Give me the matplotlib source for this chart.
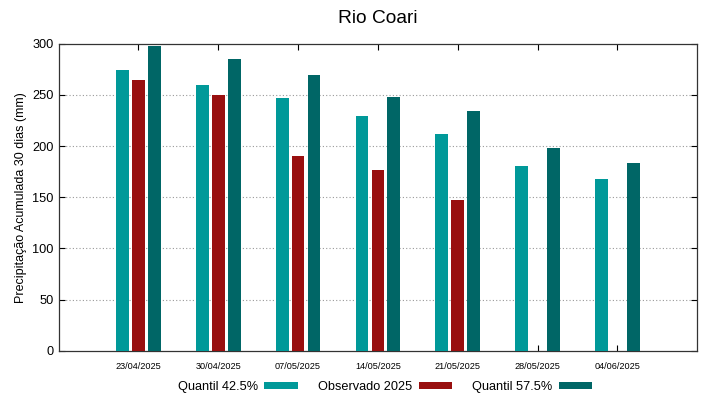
import numpy as np
import matplotlib
matplotlib.use('Agg')
import matplotlib.pyplot as plt

plt.rcParams['font.family'] = ['Liberation Sans', 'DejaVu Sans']

# data
datas      = ['23/04/2025', '30/04/2025', '07/05/2025', '14/05/2025',
              '21/05/2025', '28/05/2025', '04/06/2025']
q425       = [274.0, 260.0, 247.0, 229.5, 212.0, 180.5, 168.0]
observado  = [264.5, 250.0, 190.0, 177.0, 147.5, np.nan, np.nan]
q575       = [297.5, 285.5, 269.5, 248.0, 234.0, 198.0, 183.0]

cor_q425 = '#009999'
cor_obs  = '#990f0f'
cor_q575 = '#006666'


fig = plt.figure( figsize=(7.19, 3.99), dpi=100 )
ax  = fig.add_axes( [0.0816, 0.121, 0.888, 0.7695] )

x = np.arange( len(datas) )
w = 0.16
off = 0.2

b1 = ax.bar( x - off , q425      , w , color=cor_q425 , zorder=3 , label='Quantil 42.5%' )
b2 = ax.bar( x       , observado , w , color=cor_obs  , zorder=3 , label='Observado 2025' )
b3 = ax.bar( x + off , q575      , w , color=cor_q575 , zorder=3 , label='Quantil 57.5%' )

ax.set_xlim( -1 , len(datas) )
ax.set_ylim( 0 , 300 )
ax.set_yticks( np.arange(0, 301, 50) )
ax.set_xticks( x )
ax.set_xticklabels( datas , fontsize=6.6 )
ax.tick_params( axis='y' , labelsize=9.2 , direction='in' , right=True , length=4 )
ax.tick_params( axis='x' , direction='in' , top=True , length=4 , pad=8 )

for yv in range(50, 300, 50):
    ax.axhline( yv , color='#999999' , linestyle=(0, (1, 2)) , linewidth=0.8 , zorder=1 )

for s in ax.spines.values():
    s.set_linewidth(0.9)
    s.set_color('#333333')

ax.set_ylabel( 'Precipitação Acumulada 30 dias (mm)' , fontsize=9 )
ax.set_title( 'Rio Coari' , fontsize=13.8 , pad=15 )

fig.legend( handles=[b1, b2, b3] , loc='center' , bbox_to_anchor=(385/719, 1 - 387/399) ,
            ncol=3 , frameon=False , markerfirst=False , fontsize=9.2 ,
            handlelength=2.6 , handleheight=0.45 , handletextpad=0.5 , columnspacing=1.6 )

fig.savefig( 'out.png' , dpi=100 )
